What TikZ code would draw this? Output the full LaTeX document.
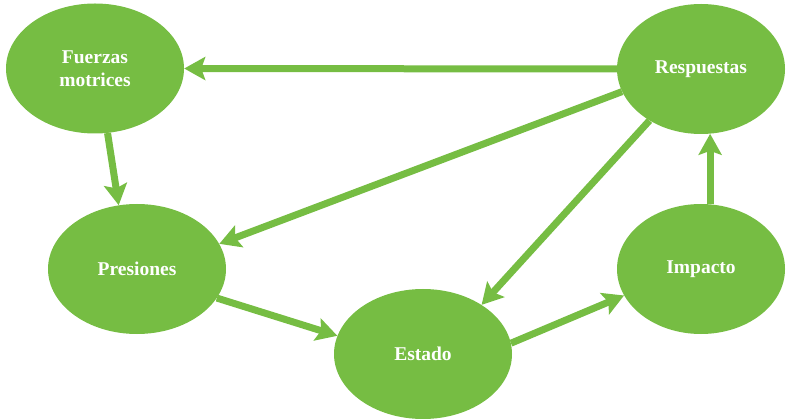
\documentclass[tikz,border=0pt]{standalone}
\usepackage{fontspec}
\setmainfont{Liberation Serif}
\usepackage{tikz}
\usetikzlibrary{shapes.geometric,arrows.meta}
\definecolor{leafgreen}{RGB}{118,189,67}

\begin{document}
\begin{tikzpicture}[x=1pt,y=-1pt,
  stage/.style={ellipse, fill=leafgreen, text=white, inner sep=0pt,
    minimum width=178pt, minimum height=130pt, align=center,
    font=\fontsize{19.5}{23}\selectfont\bfseries},
  flow/.style={draw=leafgreen, line width=7pt,
    -{Stealth[length=21pt,width=23pt,inset=4pt]}}]
  \useasboundingbox (0,0) rectangle (789,419);
  \node [stage] (fuerzas) at (95,68.5) {Fuerzas\\motrices};
  \node [stage, minimum width=168pt] (respuestas) at (701,69) {Respuestas};
  \node [stage] (presiones) at (137,269) {Presiones};
  \node [stage, minimum width=168pt] (impacto) at (701,269) {Impacto};
  \node [stage] (estado) at (423,354) {Estado};
  \draw [flow] (respuestas.180) -- (fuerzas.0);
  \draw [flow] (fuerzas.-79) -- (presiones.106);
  \draw [flow] (respuestas.196) -- (presiones.17);
  \draw [flow] (respuestas.225) -- (estado.40);
  \draw [flow] (presiones.-20) -- (estado.168);
  \draw [flow] (estado.7) -- (impacto.-161);
  \draw [flow] (impacto.82) -- (respuestas.-82);
\end{tikzpicture}
\end{document}
